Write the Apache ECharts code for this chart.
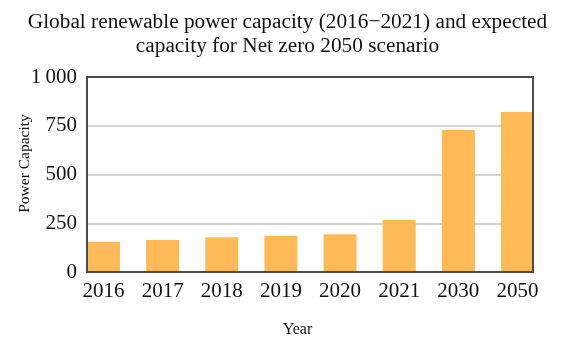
<!DOCTYPE html>
<html>
<head>
<meta charset="utf-8">
<script src="https://cdn.jsdelivr.net/npm/echarts@6/dist/echarts.min.js"></script>
<style>
  html, body { margin: 0; padding: 0; background: #fff; }
  #chart { width: 575px; height: 347px; }
</style>
</head>
<body>
<div id="chart"></div>
<script>
// Global renewable power capacity by year, with 2030/2050 Net zero projections
const years = ['2016', '2017', '2018', '2019', '2020', '2021', '2030', '2050'];
const capacity = [155, 164, 178, 186, 193, 268, 728, 820];
const yTicks = ['0', '250', '500', '750', '1\u2009000'];

const serif = '"Liberation Serif", "DejaVu Serif", serif';
const chart = echarts.init(document.getElementById('chart'), null, { renderer: 'canvas' });

chart.setOption({
  animation: false,
  backgroundColor: '#ffffff',
  title: {
    text: 'Global renewable power capacity (2016\u22122021) and expected\ncapacity for Net zero 2050 scenario',
    left: 'center',
    top: 5,
    textStyle: {
      fontFamily: serif,
      fontSize: 21.3,
      fontWeight: 'normal',
      color: '#111',
      lineHeight: 24
    }
  },
  grid: [
    // framed plot area carrying the value scale; frame drawn above the bars
    { left: 87, right: 42, top: 77, bottom: 75, show: true, z: 5, borderColor: '#4a4a4a', borderWidth: 2, containLabel: false, outerBoundsMode: 'none' },
    // bar layout area: first and last bars sit flush with the frame
    { left: 103.5, right: 57.5, top: 77, bottom: 75, containLabel: false, outerBoundsMode: 'none' }
  ],
  xAxis: [
    { gridIndex: 0, type: 'value', min: 0, max: 1, show: false },
    {
      gridIndex: 1,
      type: 'category',
      data: years,
      boundaryGap: false,
      axisLine: { show: false },
      axisTick: { show: false },
      axisLabel: { fontFamily: serif, fontSize: 21, color: '#111', margin: 9 },
      name: 'Year',
      nameLocation: 'middle',
      nameGap: 50,
      nameMoveOverlap: false,
      nameTextStyle: { fontFamily: serif, fontSize: 16, color: '#111', padding: [0, 26, 0, 0] }
    }
  ],
  yAxis: [
    {
      gridIndex: 0,
      type: 'value',
      min: 0,
      max: 1000,
      interval: 250,
      axisLine: { show: false },
      axisTick: { show: false },
      splitLine: { lineStyle: { color: '#c4c4c4', width: 1.5 } },
      axisLabel: {
        fontFamily: serif,
        fontSize: 21,
        color: '#111',
        margin: 10,
        formatter: (v) => yTicks[Math.round(v / 250)]
      },
      name: 'Power Capacity',
      nameLocation: 'middle',
      nameGap: 54,
      nameMoveOverlap: false,
      nameTextStyle: { fontFamily: serif, fontSize: 15.5, color: '#111', padding: [0, 0, 0, 22] }
    },
    { gridIndex: 1, type: 'value', min: 0, max: 1000, show: false }
  ],
  series: [
    {
      type: 'bar',
      xAxisIndex: 1,
      yAxisIndex: 1,
      data: capacity,
      barWidth: 33,
      clip: false,
      z: 1,
      itemStyle: { color: '#FFB957' }
    }
  ]
});
</script>
</body>
</html>
